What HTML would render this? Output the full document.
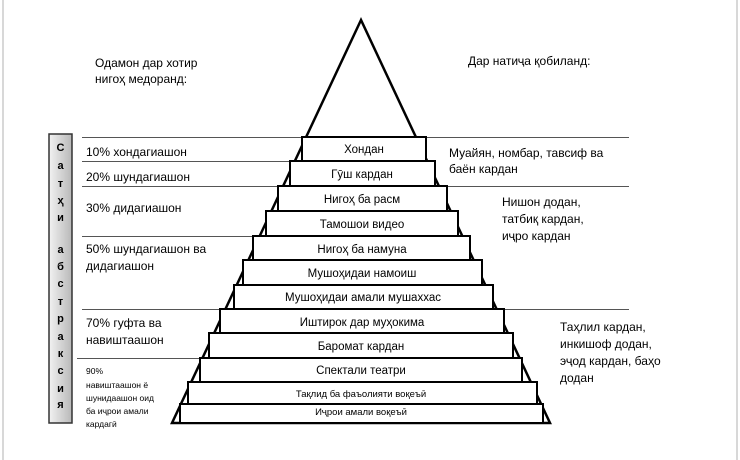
<!DOCTYPE html>
<html><head><meta charset="utf-8"><style>
html,body{margin:0;padding:0;background:#fff;}
svg{display:block;font-family:"Liberation Sans","DejaVu Sans",sans-serif;}
</style></head><body>
<svg width="740" height="460" viewBox="0 0 740 460" xmlns="http://www.w3.org/2000/svg">
<defs>
<linearGradient id="g" x1="0" y1="0" x2="1" y2="0">
<stop offset="0" stop-color="#f2f2f2"/><stop offset="1" stop-color="#b8b8b8"/>
</linearGradient>
</defs>
<line x1="3" y1="0" x2="3" y2="460" stroke="#ccc" stroke-width="1.5"/>
<line x1="737" y1="0" x2="737" y2="460" stroke="#ccc" stroke-width="1.5"/>
<!-- horizontal lines -->
<g stroke="#555" stroke-width="1">
<line x1="82" y1="137.5" x2="629" y2="137.5"/>
<line x1="82" y1="161.5" x2="300" y2="161.5"/>
<line x1="82" y1="186.5" x2="629" y2="186.5"/>
<line x1="82" y1="236.5" x2="260" y2="236.5"/>
<line x1="82" y1="309.5" x2="629" y2="309.5"/>
<line x1="77" y1="358.5" x2="205" y2="358.5"/>
</g>
<!-- triangle -->
<polygon points="361,20 172,423 550,423" fill="#fff" stroke="#000" stroke-width="2.5"/>
<!-- boxes -->
<g fill="#fff" stroke="#000" stroke-width="2">
<rect x="302" y="137" width="124" height="24"/>
<rect x="290" y="161" width="145" height="25"/>
<rect x="278" y="186" width="169" height="25"/>
<rect x="266" y="211" width="192" height="25"/>
<rect x="253" y="236" width="217" height="24"/>
<rect x="243" y="260" width="239" height="25"/>
<rect x="234" y="285" width="259" height="24"/>
<rect x="220" y="309" width="284" height="24"/>
<rect x="209" y="333" width="304" height="25"/>
<rect x="200" y="358" width="322" height="24"/>
<rect x="188" y="382" width="349" height="22"/>
<rect x="180" y="404" width="363" height="19"/>
</g>
<g font-size="11.5" text-anchor="middle" fill="#000">
<text x="364" y="153">Хондан</text>
<text x="362" y="178">Гӯш кардан</text>
<text x="362" y="203">Нигоҳ ба расм</text>
<text x="362" y="228">Тамошои видео</text>
<text x="362" y="253">Нигоҳ ба намуна</text>
<text x="362" y="277">Мушоҳидаи намоиш</text>
<text x="363" y="301">Мушоҳидаи амали мушаххас</text>
<text x="362" y="326">Иштирок дар муҳокима</text>
<text x="361" y="350">Баромат кардан</text>
<text x="361" y="374">Спектали театри</text>
<text x="361" y="397" font-size="9.5">Тақлид ба фаъолияти воқеъӣ</text>
<text x="361" y="415" font-size="9.5">Иҷрои амали воқеъӣ</text>
</g>
<!-- top labels -->
<g font-size="12" fill="#000">
<text x="95" y="67">Одамон дар хотир</text>
<text x="95" y="83">нигоҳ медоранд:</text>
<text x="468" y="65">Дар натиҷа қобиланд:</text>
<text x="86" y="156">10% хондагиашон</text>
<text x="86" y="181">20% шундагиашон</text>
<text x="86" y="212">30% дидагиашон</text>
<text x="86" y="253">50% шундагиашон ва</text>
<text x="86" y="270">дидагиашон</text>
<text x="86" y="327">70% гуфта ва</text>
<text x="86" y="344">навиштаашон</text>
<text x="449" y="157">Муайян, номбар, тавсиф ва</text>
<text x="449" y="173">баён кардан</text>
<text x="502" y="206">Нишон додан,</text>
<text x="502" y="223">татбиқ кардан,</text>
<text x="502" y="240">иҷро кардан</text>
<text x="560" y="331">Таҳлил кардан,</text>
<text x="560" y="348">инкишоф додан,</text>
<text x="560" y="365">эҷод кардан, баҳо</text>
<text x="560" y="382">додан</text>
</g>
<g font-size="8.5" fill="#000">
<text x="86" y="374">90%</text>
<text x="86" y="388">навиштаашон ё</text>
<text x="86" y="401">шунидаашон оид</text>
<text x="86" y="414">ба иҷрои амали</text>
<text x="86" y="427">кардагӣ</text>
</g>
<!-- sidebar -->
<rect x="49" y="134" width="23" height="289" fill="url(#g)" stroke="#333" stroke-width="1.5"/>
<g font-size="11" font-weight="bold" text-anchor="middle" fill="#000">
<text x="60.5" y="151">С</text>
<text x="60.5" y="169">а</text>
<text x="60.5" y="187">т</text>
<text x="60.5" y="204">ҳ</text>
<text x="60.5" y="221">и</text>
<text x="60.5" y="253">а</text>
<text x="60.5" y="270">б</text>
<text x="60.5" y="287">с</text>
<text x="60.5" y="305">т</text>
<text x="60.5" y="322">р</text>
<text x="60.5" y="340">а</text>
<text x="60.5" y="357">к</text>
<text x="60.5" y="374">с</text>
<text x="60.5" y="392">и</text>
<text x="60.5" y="408">я</text>
</g>
</svg>
</body></html>
